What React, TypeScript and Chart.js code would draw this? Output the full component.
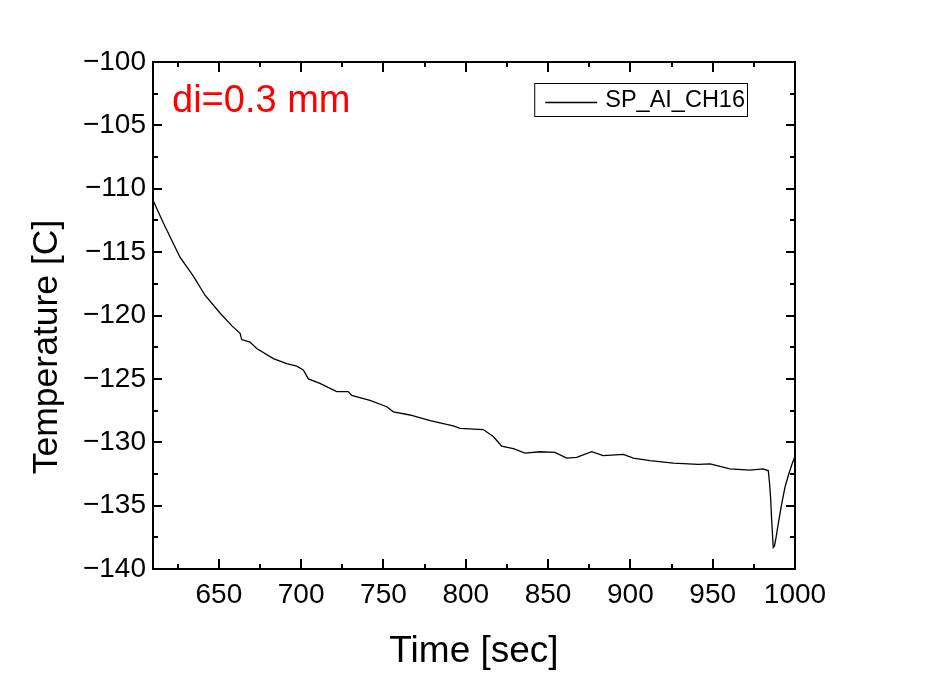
import { useEffect, useRef } from 'react';
import { Chart, registerables } from 'chart.js';

Chart.register(...registerables);

// ---- data ----
const timeSec = [
  610, 616.3, 626.4, 634.5, 641.6, 650.7, 657.8, 662.9, 663.9, 668.9, 673, 683.1, 691.2, 697.3,
  701.3, 704.4, 711.4, 721.6, 728.6, 730.7, 741.8, 752, 756, 766.1, 778.3, 792.4, 796.5, 810.6,
  816.7, 821.8, 828.9, 836, 845.1, 854.2, 861.3, 867.4, 876.5, 883.5, 895.7, 901.8, 911.9, 926.1,
  941.3, 948.4, 960.5, 972.7, 980.7, 983.8, 984.5, 985.2, 985.8, 986.8, 987.5, 988.5, 990, 992,
  994, 996, 998, 1000,
];
const tempC = [
  -110.9, -112.7, -115.4, -116.9, -118.4, -119.8, -120.8, -121.4, -121.9, -122.1, -122.6, -123.4,
  -123.8, -124.0, -124.3, -125.0, -125.35, -126.0, -126.0, -126.3, -126.7, -127.2, -127.6, -127.85,
  -128.3, -128.7, -128.9, -129.0, -129.55, -130.3, -130.5, -130.85, -130.75, -130.8, -131.25,
  -131.2, -130.75, -131.05, -130.95, -131.25, -131.45, -131.65, -131.75, -131.7, -132.1, -132.2,
  -132.1, -132.25, -133.2, -134.4, -136.1, -138.3, -138.2, -137.5, -136.3, -134.8, -133.5, -132.6,
  -131.8, -131.1,
];
const seriesLabel = 'SP_AI_CH16';
const annotationText = 'di=0.3 mm';
const xTitle = 'Time [sec]';
const yTitle = 'Temperature [C]';
const xRange = [610, 1000];
const yRange = [-140, -100];
const xSteps = [50, 25]; // major, minor
const ySteps = [5, 2.5];

const FONT = "'Liberation Sans', Arial, sans-serif";

const framePlugin = {
  id: 'frameTicks',
  afterDraw(chart: any) {
    const { ctx, chartArea, scales } = chart;
    const { left, right, top, bottom } = chartArea;
    const x = scales.x;
    const y = scales.y;
    ctx.save();
    ctx.strokeStyle = '#000';
    ctx.lineWidth = 2;
    ctx.strokeRect(left, top, right - left, bottom - top);
    const seg = (x1: number, y1: number, x2: number, y2: number) => {
      ctx.beginPath();
      ctx.moveTo(x1, y1);
      ctx.lineTo(x2, y2);
      ctx.stroke();
    };
    const isMajor = (v: number, step: number) => Math.abs(v / step - Math.round(v / step)) < 1e-6;
    for (let v = Math.ceil(x.min / xSteps[1]) * xSteps[1]; v < x.max; v += xSteps[1]) {
      const px = Math.round(x.getPixelForValue(v));
      const len = isMajor(v, xSteps[0]) ? 10 : 5;
      seg(px, bottom, px, bottom - len);
      seg(px, top, px, top + len);
    }
    for (let v = Math.ceil(y.min / ySteps[1]) * ySteps[1]; v < y.max; v += ySteps[1]) {
      const py = Math.round(y.getPixelForValue(v));
      const len = isMajor(v, ySteps[0]) ? 9 : 5;
      seg(left, py, left + len, py);
      seg(right, py, right - len, py);
    }

    // y axis title
    ctx.fillStyle = '#000';
    ctx.font = `35.5px ${FONT}`;
    ctx.textAlign = 'center';
    ctx.textBaseline = 'middle';
    ctx.save();
    ctx.translate(left - 106, top + (bottom - top) * 0.562);
    ctx.rotate(-Math.PI / 2);
    ctx.fillText(yTitle, 0, 0);
    ctx.restore();

    // annotation
    ctx.fillStyle = '#ff0000';
    ctx.font = `38px ${FONT}`;
    ctx.textAlign = 'left';
    ctx.textBaseline = 'alphabetic';
    ctx.fillText(annotationText, left + 19, top + 50);

    // legend
    const ds = chart.data.datasets[0];
    ctx.font = `23.5px ${FONT}`;
    const tw = ctx.measureText(ds.label).width;
    const boxRight = right - 48;
    const boxTop = top + 21;
    const boxH = 33;
    const textX = boxRight - 2 - tw;
    const lineEnd = textX - 8;
    const lineStart = lineEnd - 52;
    const boxLeft = lineStart - 11;
    ctx.lineWidth = 1;
    ctx.strokeStyle = '#000';
    ctx.strokeRect(boxLeft + 0.5, boxTop + 0.5, boxRight - boxLeft, boxH);
    ctx.strokeStyle = ds.borderColor;
    ctx.lineWidth = ds.borderWidth;
    seg(lineStart, boxTop + 19.5, lineEnd, boxTop + 19.5);
    ctx.fillStyle = '#000';
    ctx.textBaseline = 'middle';
    ctx.fillText(ds.label, textX, boxTop + 18);
    ctx.restore();
  },
};

export default function App() {
  const canvasRef = useRef<HTMLCanvasElement | null>(null);

  useEffect(() => {
    const canvas = canvasRef.current;
    if (!canvas) return;
    const chart = new Chart(canvas, {
      type: 'line',
      data: {
        datasets: [
          {
            label: seriesLabel,
            data: timeSec.map((t, i) => ({ x: t, y: tempC[i] })),
            borderColor: '#000000',
            borderWidth: 1.3,
            pointRadius: 0,
            tension: 0,
            fill: false,
          },
        ],
      },
      options: {
        animation: false,
        responsive: false,
        devicePixelRatio: 1,
        layout: { padding: { left: 0, top: 62, right: 152, bottom: 0 } },
        plugins: {
          legend: { display: false },
          tooltip: { enabled: false },
          title: { display: false },
        },
        scales: {
          x: {
            type: 'linear',
            min: xRange[0],
            max: xRange[1],
            grid: { display: false, drawTicks: false },
            border: { display: false },
            ticks: {
              stepSize: xSteps[0],
              includeBounds: false,
              autoSkip: false,
              maxRotation: 0,
              padding: 9,
              color: '#000',
              font: { family: FONT, size: 28 },
              callback: (v: any) => String(v),
            },
            title: {
              display: true,
              text: xTitle,
              color: '#000',
              font: { family: FONT, size: 37 },
              padding: { top: 0, bottom: 3 },
            },
            afterFit: (s: any) => {
              s.height = 108;
              s.paddingLeft = 0;
              s.paddingRight = 0;
            },
          },
          y: {
            type: 'linear',
            min: yRange[0],
            max: yRange[1],
            grid: { display: false, drawTicks: false },
            border: { display: false },
            ticks: {
              stepSize: ySteps[0],
              autoSkip: false,
              padding: 7,
              color: '#000',
              font: { family: FONT, size: 28 },
              callback: (v: any) => String(v).replace('-', '\u2212'),
            },
            afterFit: (s: any) => {
              s.width = 153;
              s.paddingTop = 0;
              s.paddingBottom = 0;
            },
          },
        },
      },
      plugins: [framePlugin],
    } as any);
    return () => chart.destroy();
  }, []);

  return (
    <div style={{ position: 'absolute', left: 0, top: 0, width: 947, height: 677, background: '#fff' }}>
      <canvas ref={canvasRef} width={947} height={677} />
    </div>
  );
}
